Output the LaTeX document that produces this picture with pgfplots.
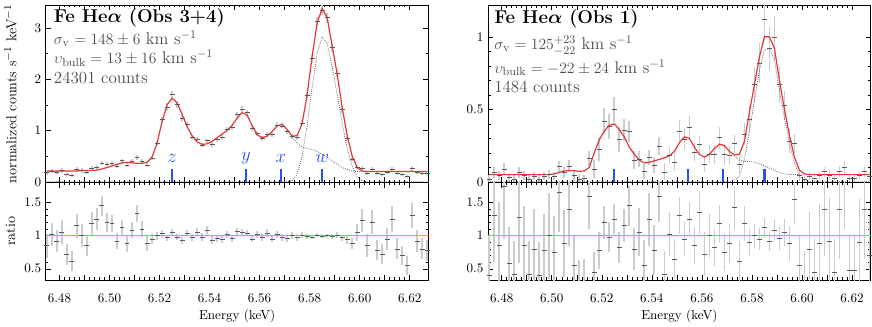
\documentclass[border=0pt]{standalone}
\usepackage{amsmath}
\usepackage{pgfplots}
\usepackage{pgfplotstable}
\pgfplotsset{compat=1.18}

\definecolor{modelred}{RGB}{232,52,52}
\definecolor{lineblue}{RGB}{40,80,250}
\definecolor{ratiogreen}{RGB}{100,220,100}

% Obs 3+4: energy, model, data, data error, ratio, ratio error
\pgfplotstableread{
E m d de r re
6.475 0.21 0.18 0.04 0.85 0.18
6.477 0.21 0.21 0.04 1.02 0.17
6.479 0.21 0.19 0.04 0.92 0.17
6.481 0.21 0.22 0.04 1.05 0.18
6.483 0.21 0.15 0.03 0.72 0.16
6.485 0.21 0.13 0.03 0.62 0.15
6.487 0.21 0.24 0.04 1.15 0.18
6.489 0.22 0.22 0.04 1.00 0.17
6.491 0.22 0.19 0.04 0.85 0.16
6.493 0.22 0.26 0.04 1.18 0.17
6.495 0.23 0.29 0.04 1.25 0.16
6.497 0.25 0.36 0.04 1.45 0.15
6.499 0.28 0.34 0.04 1.20 0.14
6.501 0.31 0.37 0.04 1.18 0.13
6.503 0.34 0.31 0.04 0.92 0.12
6.505 0.37 0.41 0.04 1.12 0.12
6.507 0.38 0.33 0.05 0.88 0.12
6.509 0.37 0.40 0.04 1.08 0.12
6.511 0.36 0.48 0.05 1.33 0.13
6.513 0.36 0.40 0.04 1.10 0.12
6.515 0.38 0.33 0.04 0.88 0.11
6.517 0.48 0.46 0.04 0.95 0.08
6.519 0.75 0.75 0.05 1.00 0.06
6.521 1.17 1.21 0.06 1.03 0.05
6.523 1.50 1.46 0.07 0.97 0.045
6.525 1.63 1.71 0.07 1.05 0.045
6.527 1.54 1.51 0.07 0.98 0.045
6.529 1.32 1.23 0.07 0.93 0.05
6.531 1.08 1.12 0.05 1.04 0.05
6.533 0.90 0.87 0.05 0.97 0.055
6.535 0.78 0.82 0.05 1.05 0.06
6.537 0.73 0.72 0.04 0.98 0.06
6.539 0.74 0.80 0.04 1.08 0.06
6.541 0.79 0.73 0.05 0.93 0.06
6.543 0.86 0.83 0.05 0.96 0.055
6.545 0.93 0.87 0.05 0.94 0.055
6.547 1.00 1.02 0.05 1.02 0.05
6.549 1.10 1.06 0.05 0.96 0.05
6.551 1.24 1.31 0.06 1.06 0.05
6.553 1.35 1.42 0.06 1.05 0.045
6.555 1.30 1.35 0.06 1.04 0.045
6.557 1.10 1.05 0.05 0.95 0.05
6.559 0.92 0.94 0.05 1.02 0.055
6.561 0.86 0.84 0.05 0.98 0.055
6.563 0.89 0.93 0.05 1.04 0.055
6.565 0.98 0.93 0.05 0.95 0.05
6.567 1.09 1.11 0.05 1.02 0.05
6.569 1.12 1.09 0.05 0.97 0.05
6.571 1.02 0.98 0.05 0.96 0.05
6.573 0.89 0.89 0.05 1.00 0.055
6.575 0.90 0.87 0.05 0.97 0.055
6.577 1.14 1.15 0.05 1.01 0.05
6.579 1.70 1.68 0.07 0.99 0.04
6.581 2.45 2.40 0.08 0.98 0.035
6.583 3.10 3.13 0.09 1.01 0.03
6.585 3.38 3.35 0.10 0.99 0.03
6.587 3.20 3.20 0.10 1.00 0.03
6.589 2.65 2.62 0.09 0.99 0.035
6.591 2.10 2.12 0.08 1.01 0.04
6.593 1.45 1.41 0.07 0.97 0.045
6.595 0.90 0.85 0.05 0.94 0.06
6.597 0.50 0.44 0.04 0.88 0.08
6.599 0.28 0.29 0.04 1.05 0.13
6.601 0.21 0.26 0.04 1.23 0.17
6.603 0.20 0.17 0.03 0.85 0.17
6.605 0.20 0.24 0.04 1.20 0.18
6.607 0.20 0.16 0.03 0.78 0.15
6.609 0.20 0.14 0.03 0.72 0.15
6.611 0.20 0.19 0.03 0.95 0.17
6.613 0.20 0.25 0.04 1.25 0.19
6.615 0.20 0.16 0.03 0.80 0.16
6.617 0.20 0.14 0.03 0.70 0.15
6.619 0.20 0.11 0.03 0.55 0.14
6.621 0.20 0.26 0.04 1.30 0.19
6.623 0.20 0.18 0.03 0.92 0.17
6.625 0.20 0.16 0.03 0.80 0.16
6.627 0.20 0.16 0.03 0.78 0.16
}\obsA

\pgfplotstableread{
E v
6.4745 0
6.571 0
6.573 0.02
6.575 0.15
6.577 0.50
6.579 1.10
6.581 1.85
6.583 2.50
6.585 2.83
6.587 2.70
6.589 2.25
6.591 1.70
6.593 1.15
6.595 0.65
6.597 0.30
6.599 0.10
6.601 0.02
6.603 0
6.6275 0
}\wA

\pgfplotstableread{
E v
6.573 0.87
6.575 0.75
6.577 0.68
6.579 0.65
6.581 0.63
6.583 0.59
6.585 0.54
6.587 0.48
6.589 0.41
6.591 0.34
6.593 0.28
6.595 0.24
6.597 0.21
6.599 0.20
6.603 0.20
}\restA

% Obs 1
\pgfplotstableread{
E m d de r re
6.475 0.05 0.020 0.030 0.40 0.60
6.477 0.05 0.065 0.035 1.30 0.70
6.479 0.05 0.043 0.033 0.85 0.65
6.481 0.05 0.088 0.040 1.75 0.80
6.483 0.05 0.029 0.028 0.58 0.55
6.485 0.05 0.021 0.025 0.42 0.50
6.487 0.05 0.064 0.035 1.28 0.70
6.489 0.05 0.043 0.030 0.85 0.60
6.491 0.05 0.021 0.025 0.42 0.50
6.493 0.05 0.040 0.030 0.80 0.60
6.495 0.05 0.020 0.025 0.40 0.50
6.497 0.05 0.039 0.028 0.78 0.55
6.499 0.05 0.050 0.033 1.00 0.65
6.501 0.055 0.041 0.030 0.75 0.55
6.503 0.065 0.107 0.039 1.65 0.60
6.505 0.075 0.066 0.038 0.88 0.50
6.507 0.078 0.109 0.043 1.40 0.55
6.509 0.077 0.042 0.035 0.55 0.45
6.511 0.072 0.020 0.025 0.28 0.35
6.513 0.075 0.023 0.026 0.30 0.35
6.515 0.10 0.160 0.050 1.60 0.50
6.517 0.20 0.090 0.060 0.45 0.30
6.519 0.29 0.226 0.081 0.78 0.28
6.521 0.35 0.420 0.088 1.20 0.25
6.523 0.39 0.382 0.086 0.98 0.22
6.525 0.40 0.500 0.088 1.25 0.22
6.527 0.36 0.295 0.086 0.82 0.24
6.529 0.31 0.357 0.078 1.15 0.25
6.531 0.24 0.348 0.072 1.45 0.30
6.533 0.19 0.152 0.061 0.80 0.32
6.535 0.15 0.158 0.054 1.05 0.36
6.537 0.13 0.072 0.049 0.55 0.38
6.539 0.135 0.169 0.054 1.25 0.40
6.541 0.145 0.113 0.055 0.78 0.38
6.543 0.155 0.248 0.062 1.60 0.40
6.545 0.165 0.069 0.058 0.42 0.35
6.547 0.18 0.184 0.059 1.02 0.33
6.549 0.21 0.137 0.063 0.65 0.30
6.551 0.27 0.351 0.076 1.30 0.28
6.553 0.31 0.295 0.078 0.95 0.25
6.555 0.30 0.375 0.078 1.25 0.26
6.557 0.24 0.204 0.067 0.85 0.28
6.559 0.19 0.257 0.061 1.35 0.32
6.561 0.17 0.122 0.056 0.72 0.33
6.563 0.19 0.190 0.061 1.00 0.32
6.565 0.23 0.189 0.064 0.82 0.28
6.567 0.26 0.307 0.073 1.18 0.28
6.569 0.25 0.188 0.070 0.75 0.28
6.571 0.21 0.185 0.063 0.88 0.30
6.573 0.185 0.263 0.061 1.42 0.33
6.575 0.19 0.118 0.057 0.62 0.30
6.577 0.28 0.330 0.073 1.18 0.26
6.579 0.48 0.432 0.096 0.90 0.20
6.581 0.67 0.670 0.121 1.00 0.18
6.583 0.86 0.817 0.138 0.95 0.16
6.585 1.00 1.120 0.150 1.12 0.15
6.587 1.00 0.920 0.150 0.92 0.15
6.589 0.92 0.994 0.147 1.08 0.16
6.591 0.70 0.672 0.126 0.96 0.18
6.593 0.50 0.525 0.100 1.05 0.20
6.595 0.32 0.282 0.083 0.88 0.26
6.597 0.17 0.264 0.065 1.55 0.38
6.599 0.08 0.044 0.036 0.55 0.45
6.601 0.055 0.018 0.025 0.32 0.45
6.603 0.05 0.040 0.028 0.80 0.55
6.605 0.05 0.023 0.025 0.45 0.50
6.607 0.05 0.044 0.030 0.88 0.60
6.609 0.05 0.070 0.035 1.40 0.70
6.611 0.05 0.046 0.033 0.92 0.65
6.613 0.05 0.023 0.025 0.45 0.50
6.615 0.05 0.070 0.038 1.40 0.75
6.617 0.05 0.098 0.043 1.95 0.85
6.619 0.05 0.024 0.028 0.48 0.55
6.621 0.05 0.024 0.028 0.48 0.55
6.623 0.05 0.045 0.033 0.90 0.65
6.625 0.05 0.070 0.038 1.40 0.75
6.627 0.05 0.035 0.030 0.70 0.60
}\obsB

\pgfplotstableread{
E v
6.4745 0
6.571 0
6.573 0.01
6.575 0.04
6.577 0.15
6.579 0.35
6.581 0.56
6.583 0.77
6.585 0.91
6.587 0.92
6.589 0.84
6.591 0.63
6.593 0.44
6.595 0.27
6.597 0.13
6.599 0.04
6.601 0.01
6.603 0
6.6275 0
}\wB

\pgfplotstableread{
E v
6.573 0.18
6.575 0.15
6.577 0.14
6.579 0.14
6.581 0.135
6.583 0.125
6.585 0.11
6.587 0.095
6.589 0.08
6.591 0.065
6.593 0.055
6.595 0.05
6.599 0.05
}\restB

\pgfplotsset{
  spec/.style={scale only axis, width=293pt,
    xmin=6.4745, xmax=6.6275,
    xtick={6.48,6.49,6.50,6.51,6.52,6.53,6.54,6.55,6.56,6.57,6.58,6.59,6.60,6.61,6.62},
    minor x tick num=4,
    tick align=inside, major tick length=4pt, minor tick length=2pt,
    every tick/.style={black, line width=0.4pt},
    axis line style={line width=0.5pt},
    scaled x ticks=false, scaled y ticks=false},
  toppan/.style={spec, height=136pt, xticklabels={}},
  botpan/.style={spec, height=74.6pt, ymin=0.33, ymax=1.8,
    ytick={0.5,1,1.5}, minor y tick num=4,
    xticklabels={6.48,,6.50,,6.52,,6.54,,6.56,,6.58,,6.60,,6.62},
    xticklabel style={yshift=-7pt},
    xlabel={Energy (keV)},
    xlabel style={at={(axis description cs:0.5,0)}, anchor=center, yshift=-27.5pt}},
  % data: grey vertical error, short dark bar across the bin
  databar/.style={only marks, mark=-, mark size=1.9pt,
    mark options={draw=black!65, line width=0.45pt},
    error bars/.cd, y dir=both, y explicit, error mark=none,
    error bar style={draw=gray!40, line width=1.3pt}},
  comp/.style={densely dotted, black!65, line width=0.6pt},
  model/.style={modelred, line width=0.9pt},
  lblue/.style={lineblue, line width=1.7pt, ycomb, mark=none},
  unity/.style={ratiogreen, line width=1pt},
  ylab/.style={ylabel style={at={(axis description cs:-0.092,0.5)}, anchor=center,
    font=\fontsize{11}{13}\selectfont}},
}
\tikzset{
  info/.style={anchor=west, inner sep=0pt, text=black!70, font=\fontsize{13}{15}\selectfont},
  ttl/.style={anchor=west, inner sep=0pt, font=\fontsize{14.2}{16}\selectfont\bfseries},
  lname/.style={text=lineblue, inner sep=0pt, font=\Large},
}

\begin{document}
\begin{tikzpicture}
% ---------- Obs 3+4 spectrum
\begin{axis}[toppan, name=tl, at={(0,0)}, anchor=south west,
    ymin=-0.015, ymax=3.45, ytick={0,1,2,3}, minor y tick num=1,
    ylabel={normalized counts s$^{-1}$ keV$^{-1}$}, ylab]
\addplot[databar] table[x=E, y=d, y error=de] {\obsA};
\addplot[comp] table[x=E, y=v] {\wA};
\addplot[comp] table[x=E, y=v] {\restA};
\addplot[model] table[x=E, y=m] {\obsA};
\addplot[lblue] coordinates {(6.525,0.25) (6.5545,0.25) (6.5685,0.25) (6.585,0.25)};
\node[lname] at (axis cs:6.525,0.45) {$z$};
\node[lname] at (axis cs:6.5545,0.45) {$y$};
\node[lname] at (axis cs:6.5685,0.45) {$x$};
\node[lname] at (axis cs:6.585,0.45) {$w$};
\node[ttl] at (rel axis cs:0.021,0.927) {Fe He$\boldsymbol{\alpha}$ (Obs 3+4)};
\node[info] at (rel axis cs:0.021,0.807) {$\sigma_{\rm v} = 148 \pm 6$ km s$^{-1}$};
\node[info] at (rel axis cs:0.021,0.700) {$\upsilon_{\rm bulk} = 13 \pm 16$ km s$^{-1}$};
\node[info] at (rel axis cs:0.021,0.588) {24301 counts};
\end{axis}

% ---------- Obs 3+4 ratio
\begin{axis}[botpan, at={(tl.south west)}, anchor=north west,
    ylabel={ratio}, ylab]
\addplot[databar] table[x=E, y=r, y error=re] {\obsA};
\addplot[unity] coordinates {(6.4745,1) (6.6275,1)};
\end{axis}

% ---------- Obs 1 spectrum
\begin{axis}[toppan, name=tr, at={(338.5pt,0)}, anchor=south west,
    ymin=-0.005, ymax=1.22, ytick={0,0.5,1}, minor y tick num=4]
\addplot[databar] table[x=E, y=d, y error=de] {\obsB};
\addplot[comp] table[x=E, y=v] {\wB};
\addplot[comp] table[x=E, y=v] {\restB};
\addplot[model] table[x=E, y=m] {\obsB};
\addplot[lblue] coordinates {(6.525,0.09) (6.5545,0.09) (6.5685,0.09) (6.585,0.09)};
\node[ttl] at (rel axis cs:0.016,0.920) {Fe He$\boldsymbol{\alpha}$ (Obs 1)};
\node[info] at (rel axis cs:0.016,0.772) {$\sigma_{\rm v} = 125^{+23}_{-22}$ km s$^{-1}$};
\node[info] at (rel axis cs:0.016,0.646) {$\upsilon_{\rm bulk} = -22 \pm 24$ km s$^{-1}$};
\node[info] at (rel axis cs:0.016,0.537) {1484 counts};
\end{axis}

% ---------- Obs 1 ratio
\begin{axis}[botpan, at={(tr.south west)}, anchor=north west]
\addplot[databar] table[x=E, y=r, y error=re] {\obsB};
\addplot[unity] coordinates {(6.4745,1) (6.6275,1)};
\end{axis}
\end{tikzpicture}
\end{document}
